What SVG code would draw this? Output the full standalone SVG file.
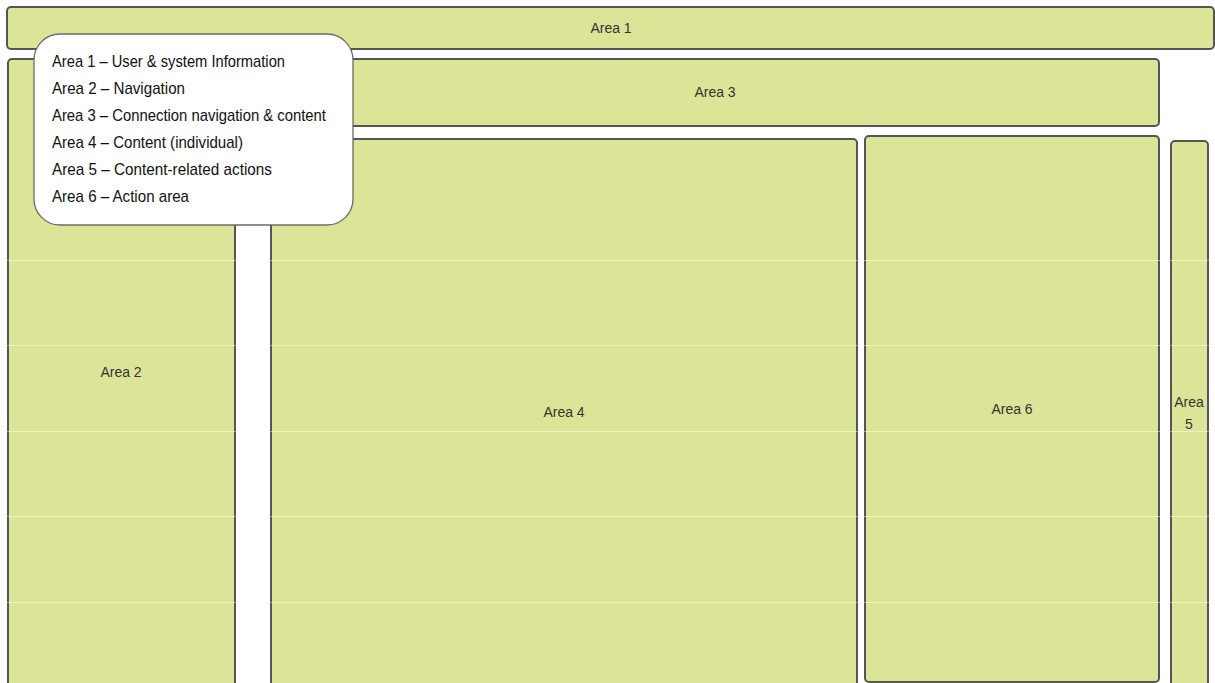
<svg xmlns="http://www.w3.org/2000/svg" width="1215" height="683" viewBox="0 0 1215 683">
  <style>
    .area { fill: #dce597; stroke: #555555; stroke-width: 2; }
    .lbl { font-family: "Liberation Sans", "DejaVu Sans", sans-serif; font-size: 14px; fill: #333333; text-anchor: middle; }
    .leg { font-family: "Liberation Sans", "DejaVu Sans", sans-serif; font-size: 17px; fill: #111111; }
    .seam { stroke: #ffffff; stroke-opacity: 0.45; stroke-width: 1; }
  </style>
  <rect x="0" y="0" width="1215" height="683" fill="#ffffff"/>
  <g id="area1">
    <rect class="area" x="7" y="7" width="1207" height="42" rx="4"/>
    <text class="lbl" x="611" y="33">Area 1</text>
  </g>
  <g id="area3">
    <rect class="area" x="270" y="59" width="889" height="67" rx="4"/>
    <text class="lbl" x="715" y="97">Area 3</text>
  </g>
  <g id="area2">
    <rect class="area" x="8" y="59" width="227" height="640" rx="4"/>
    <text class="lbl" x="121" y="377">Area 2</text>
  </g>
  <g id="area4">
    <rect class="area" x="271" y="139" width="586" height="560" rx="4"/>
    <text class="lbl" x="564" y="417">Area 4</text>
  </g>
  <g id="area6">
    <rect class="area" x="865" y="136" width="294" height="546" rx="4"/>
    <text class="lbl" x="1012" y="414">Area 6</text>
  </g>
  <g id="area5">
    <rect class="area" x="1171" y="141" width="37" height="560" rx="4"/>
    <text class="lbl" x="1189" y="407">Area</text>
    <text class="lbl" x="1189" y="429">5</text>
  </g>
  <g id="seams">
    <line class="seam" x1="0" y1="260.5" x2="1215" y2="260.5"/>
    <line class="seam" x1="0" y1="345.5" x2="1215" y2="345.5"/>
    <line class="seam" x1="0" y1="431.5" x2="1215" y2="431.5"/>
    <line class="seam" x1="0" y1="516.5" x2="1215" y2="516.5"/>
    <line class="seam" x1="0" y1="602.5" x2="1215" y2="602.5"/>
  </g>
  <g id="legend">
    <rect x="34" y="34" width="319" height="191" rx="26" fill="#ffffff" stroke="#6b6b6b" stroke-width="1.3"/>
    <text class="leg" x="52" y="67" textLength="233" lengthAdjust="spacingAndGlyphs">Area 1 – User &amp; system Information</text>
    <text class="leg" x="52" y="94" textLength="133" lengthAdjust="spacingAndGlyphs">Area 2 – Navigation</text>
    <text class="leg" x="52" y="121" textLength="274" lengthAdjust="spacingAndGlyphs">Area 3 – Connection navigation &amp; content</text>
    <text class="leg" x="52" y="148" textLength="191" lengthAdjust="spacingAndGlyphs">Area 4 – Content (individual)</text>
    <text class="leg" x="52" y="175" textLength="220" lengthAdjust="spacingAndGlyphs">Area 5 – Content-related actions</text>
    <text class="leg" x="52" y="202" textLength="137" lengthAdjust="spacingAndGlyphs">Area 6 – Action area</text>
  </g>
  <g id="connectors"></g>
</svg>
